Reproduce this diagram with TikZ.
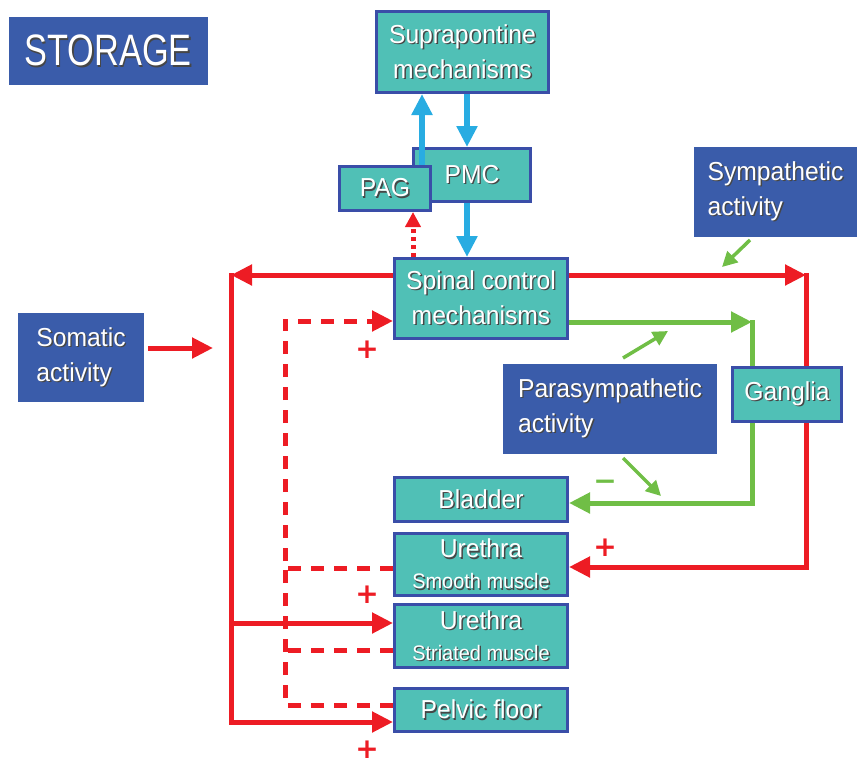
\documentclass[tikz,border=0pt]{standalone}
\usepackage{fontspec}
\setmainfont{Liberation Sans}[FakeStretch=0.95]
\newfontfamily\titlefont{Liberation Sans}[FakeStretch=0.78]
\newfontfamily\signfont{DejaVu Sans}
\usetikzlibrary{arrows.meta}
\pgfdeclarelayer{bg}
\pgfsetlayers{bg,main}
\definecolor{boxteal}{RGB}{80,192,182}
\definecolor{boxedge}{RGB}{58,78,168}
\definecolor{boxblue}{RGB}{58,92,170}
\definecolor{sigred}{RGB}{237,28,36}
\definecolor{siggreen}{RGB}{112,190,70}
\definecolor{sigcyan}{RGB}{40,172,226}
\definecolor{txtshadow}{RGB}{70,70,70}
\newcommand\shd[1]{\leavevmode\rlap{\kern1.4pt\raisebox{-1.4pt}{\textcolor{txtshadow}{#1}}}#1}
\tikzset{
    every node/.style={inner sep=0pt, text=white, font=\fontsize{26}{35}\selectfont},
    tealbox/.style={fill=boxteal, draw=boxedge, line width=3pt, align=center},
    bluebox/.style={fill=boxblue, draw=boxblue, line width=1pt, align=left},
    redline/.style={draw=sigred, line width=5pt},
    greenline/.style={draw=siggreen, line width=5pt},
    cyanline/.style={draw=sigcyan, line width=5.5pt},
    longdash/.style={dash pattern=on 13pt off 10pt},
    dotdash/.style={dash pattern=on 4pt off 4pt},
    bigtip/.style={-{Triangle[length=21pt, width=20pt]}},
    smalltip/.style={-{Triangle[length=15pt, width=15pt]}},
    signtxt/.style={font=\signfont\bfseries\fontsize{28}{28}\selectfont}
}
\begin{document}
\begin{tikzpicture}[x=1pt, y=-1pt]
  \useasboundingbox (0,0) rectangle (858,765);

  % boxes
  \node (storage) [bluebox, minimum width=198, minimum height=67] at (108,51.5)
    {\titlefont\fontsize{44}{44}\selectfont\shd{STORAGE}};
  \node (supra) [tealbox, minimum width=172, minimum height=81] at (462.5,52)
    {\shd{Suprapontine}\\\shd{mechanisms}};
  \node (pmc) [tealbox, minimum width=117, minimum height=53] at (472,175) {\shd{PMC}};
  \node (pag) [tealbox, minimum width=91, minimum height=44] at (385,188.5) {\shd{PAG}};
  \node (spinal) [tealbox, minimum width=173, minimum height=80] at (481,298.5)
    {\shd{Spinal control}\\\shd{mechanisms}};
  \node (symp) [bluebox, minimum width=162, minimum height=89] at (775.5,192)
    {\shd{Sympathetic}\\\shd{activity}};
  \node (somatic) [bluebox, minimum width=125, minimum height=88] at (81,357.5)
    {\shd{Somatic}\\\shd{activity}};
  \node (para) [bluebox, minimum width=213, minimum height=89] at (610,409)
    {\shd{Parasympathetic}\\\shd{activity}};
  \node (ganglia) [tealbox, minimum width=109, minimum height=54] at (787,394.5) {\shd{Ganglia}};
  \node (bladder) [tealbox, minimum width=173, minimum height=44] at (481,499.5) {\shd{Bladder}};
  \node (smooth) [tealbox, minimum width=173, minimum height=62] at (481,564.5)
    {\shd{Urethra}\\[-4pt]{\fontsize{21}{26}\selectfont\shd{Smooth muscle}}};
  \node (striated) [tealbox, minimum width=173, minimum height=63] at (481,636)
    {\shd{Urethra}\\[-4pt]{\fontsize{21}{26}\selectfont\shd{Striated muscle}}};
  \node (pelvic) [tealbox, minimum width=173, minimum height=43] at (481,710) {\shd{Pelvic floor}};

  % signs
  \node (plus1) [signtxt, text=sigred] at (367,350) {+};
  \node (plus2) [signtxt, text=sigred] at (367,595) {+};
  \node (plus3) [signtxt, text=sigred] at (367,750) {+};
  \node (plus4) [signtxt, text=sigred] at (605,548) {+};
  \node (minus) [signtxt, text=siggreen] at (605,485) {−};

  \begin{pgfonlayer}{bg}
  % red pathways
  \coordinate (tl) at (231,275);
  \coordinate (tr) at (806,275);
  \coordinate (bl) at (231,722);
  \coordinate (br) at (806,567);
  \coordinate (strY) at (231,623);
  \coordinate (somtip) at (213,348);
  \draw [redline, bigtip] (spinal.west |- tl) -- (tl);
  \draw [redline, line cap=rect] (tl) -- (bl);
  \draw [redline, bigtip] (bl) -- (pelvic.west |- bl);
  \draw [redline, bigtip] (strY) -- (striated.west |- strY);
  \draw [redline, bigtip, shorten <=4pt] (somatic.east |- somtip) -- (somtip);
  \draw [redline, bigtip] (spinal.east |- tr) -- (tr);
  \draw [redline, line cap=rect] (tr) -- (br);
  \draw [redline, bigtip] (br) -- (smooth.east |- br);

  % dashed feedback
  \coordinate (dtop) at (285,321);
  \coordinate (dsm) at (285,568);
  \coordinate (dst) at (285,650);
  \coordinate (dpf) at (285,705);
  \draw [redline, longdash, bigtip] (smooth.west |- dsm) -- (dsm) -- (dtop) -- (spinal.west |- dtop);
  \draw [redline, longdash] (striated.west |- dst) -- (dst);
  \draw [redline, longdash] (pelvic.west |- dpf) -- (dpf) -- (dsm);

  % green pathways
  \coordinate (gtop) at (752,322);
  \coordinate (gbot) at (752,503);
  \draw [greenline, bigtip] (spinal.east |- gtop) -- (gtop);
  \draw [greenline, line cap=rect] (gtop) -- (ganglia.north -| gtop);
  \draw [greenline, bigtip] (ganglia.south -| gbot) -- (gbot) -- (bladder.east |- gbot);
  \end{pgfonlayer}

  % small green arrows
  \coordinate (pu0) at (623,358);
  \coordinate (pu1) at (668,331);
  \coordinate (pd0) at (623,458);
  \coordinate (pd1) at (661,496);
  \coordinate (sy0) at (750,240);
  \coordinate (sy1) at (722,267);
  \draw [greenline, line width=3.5pt, smalltip] (pu0) -- (pu1);
  \draw [greenline, line width=3.5pt, smalltip] (pd0) -- (pd1);
  \draw [greenline, line width=3.5pt, smalltip] (sy0) -- (sy1);

  % supraspinal loop
  \coordinate (cup) at (422,0);
  \coordinate (cdn) at (467,0);
  \coordinate (rdot) at (413,0);
  \draw [cyanline, bigtip] (pag.north -| cup) -- (supra.south -| cup);
  \draw [cyanline, bigtip] (supra.south -| cdn) -- (pmc.north -| cdn);
  \draw [cyanline, bigtip] (pmc.south -| cdn) -- (spinal.north -| cdn);
  \draw [redline, dotdash, smalltip] (spinal.north -| rdot) -- (pag.south -| rdot);
\end{tikzpicture}
\end{document}
